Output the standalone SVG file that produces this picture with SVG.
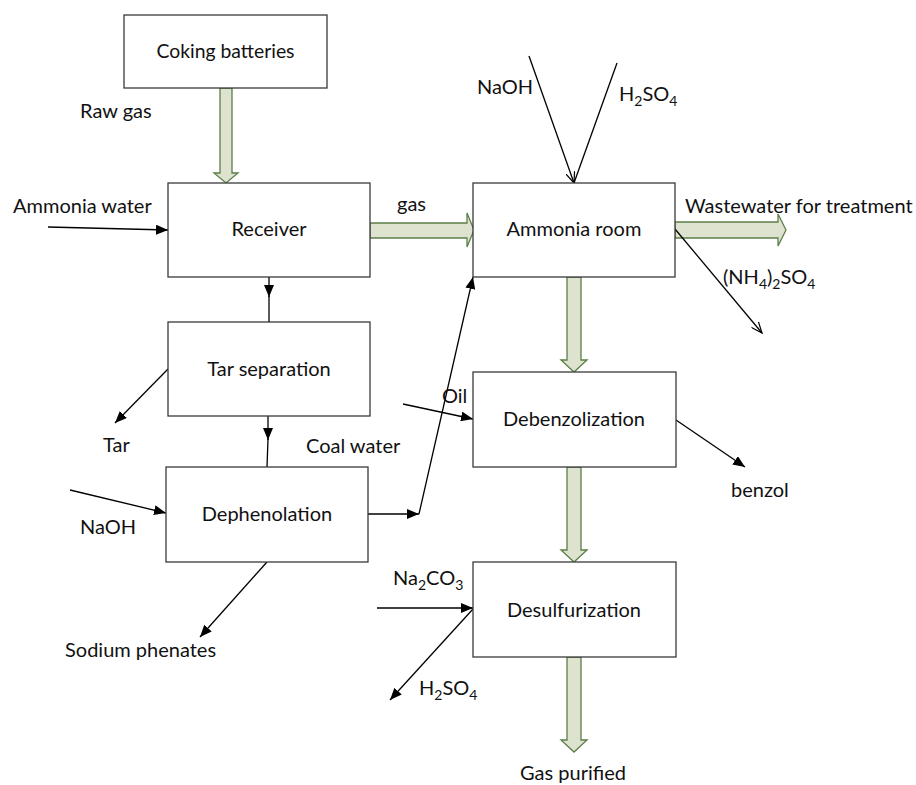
<svg xmlns="http://www.w3.org/2000/svg" width="916" height="785" viewBox="0 0 916 785">
<style>
.box{fill:#fff;stroke:#3a3a3a;stroke-width:1.3}
.t{font-family:Lato,"Liberation Sans",sans-serif;font-size:20px;fill:#111}
.c{text-anchor:middle}
.big{fill:#dde3cf;stroke:#5b7f47;stroke-width:1.3}
.ln{fill:none;stroke:#000;stroke-width:1.3}
.sub{font-size:14px}
</style>
<defs>
<marker id="fa" viewBox="0 0 12 10" refX="12" refY="5" markerWidth="12" markerHeight="10" markerUnits="userSpaceOnUse" orient="auto">
<path d="M0,0 L12,5 L0,10 Z" fill="#000"/>
</marker>
<marker id="oa" viewBox="0 0 12 10" refX="11" refY="5" markerWidth="12" markerHeight="10" markerUnits="userSpaceOnUse" orient="auto">
<path d="M0,0.5 L11,5 L0,9.5" fill="none" stroke="#000" stroke-width="1.2"/>
</marker>
</defs>
<rect width="916" height="785" fill="#fff"/>
<g id="connectors">
<polygon class="big" points="220,88 232,88 232,173 238,173 226,183 214,173 220,173"/>
<polygon class="big" points="370,223 467,223 467,213 474,230 467,247 467,238 370,238"/>
<polygon class="big" points="675,222 778,222 778,214 786,230 778,246 778,238 675,238"/>
<polygon class="big" points="567,277 581,277 581,360 587,360 574,372 561,360 567,360"/>
<polygon class="big" points="567,467 581,467 581,550 587,550 574,562 561,550 567,550"/>
<polygon class="big" points="567,657 581,657 581,740 587,740 574,752 561,740 567,740"/>
<line class="ln" x1="48" y1="227" x2="168" y2="230" marker-end="url(#fa)"/>
<line class="ln" x1="269" y1="277" x2="269" y2="297" marker-end="url(#fa)"/>
<line class="ln" x1="269" y1="296" x2="269" y2="322"/>
<line class="ln" x1="268" y1="416" x2="268" y2="440" marker-end="url(#fa)"/>
<line class="ln" x1="268" y1="439" x2="267" y2="467"/>
<line class="ln" x1="168" y1="369" x2="115" y2="423" marker-end="url(#fa)"/>
<line class="ln" x1="70" y1="490" x2="166" y2="513" marker-end="url(#fa)"/>
<line class="ln" x1="267" y1="562" x2="200" y2="637" marker-end="url(#fa)"/>
<line class="ln" x1="368" y1="514" x2="419" y2="514" marker-end="url(#fa)"/>
<line class="ln" x1="419" y1="514" x2="473" y2="277" marker-end="url(#fa)"/>
<line class="ln" x1="403" y1="404" x2="473" y2="419" marker-end="url(#fa)"/>
<line class="ln" x1="529" y1="56" x2="574" y2="183" marker-end="url(#oa)"/>
<line class="ln" x1="617" y1="63" x2="574" y2="183"/>
<line class="ln" x1="675" y1="229" x2="762" y2="333" marker-end="url(#oa)"/>
<line class="ln" x1="676" y1="420" x2="745" y2="467" marker-end="url(#fa)"/>
<line class="ln" x1="377" y1="608" x2="473" y2="608" marker-end="url(#fa)"/>
<line class="ln" x1="473" y1="609" x2="390" y2="700" marker-end="url(#fa)"/>
</g>
<g id="coking"><rect class="box" x="124" y="15" width="203" height="73"/><text class="t c" x="225.5" y="58" textLength="138" lengthAdjust="spacingAndGlyphs">Coking batteries</text></g>
<g id="receiver"><rect class="box" x="168" y="183" width="202" height="94"/><text class="t c" x="269" y="236">Receiver</text></g>
<g id="ammonia"><rect class="box" x="473" y="183" width="202" height="94"/><text class="t c" x="574" y="236">Ammonia room</text></g>
<g id="tar"><rect class="box" x="168" y="322" width="202" height="94"/><text class="t c" x="269" y="376">Tar separation</text></g>
<g id="debenz"><rect class="box" x="473" y="372" width="203" height="95"/><text class="t c" x="574" y="426">Debenzolization</text></g>
<g id="dephen"><rect class="box" x="166" y="467" width="202" height="95"/><text class="t c" x="267" y="521">Dephenolation</text></g>
<g id="desulf"><rect class="box" x="473" y="562" width="203" height="95"/><text class="t c" x="574" y="617">Desulfurization</text></g>
<g id="labels">
<text class="t" x="80" y="118">Raw gas</text>
<text class="t" x="13" y="213">Ammonia water</text>
<text class="t" x="397" y="211">gas</text>
<text class="t" x="477" y="94">NaOH</text>
<text class="t" x="619" y="101">H<tspan class="sub" dy="5">2</tspan><tspan dy="-5">SO</tspan><tspan class="sub" dy="5">4</tspan></text>
<text class="t" x="685" y="213">Wastewater for treatment</text>
<text class="t" x="723" y="284">(NH<tspan class="sub" dy="5">4</tspan><tspan dy="-5">)</tspan><tspan class="sub" dy="5">2</tspan><tspan dy="-5">SO</tspan><tspan class="sub" dy="5">4</tspan></text>
<text class="t" x="103" y="452">Tar</text>
<text class="t" x="306" y="453">Coal water</text>
<text class="t" x="442" y="403">Oil</text>
<text class="t" x="731" y="497">benzol</text>
<text class="t" x="80" y="534">NaOH</text>
<text class="t" x="65" y="657">Sodium phenates</text>
<text class="t" x="393" y="585">Na<tspan class="sub" dy="5">2</tspan><tspan dy="-5">CO</tspan><tspan class="sub" dy="5">3</tspan></text>
<text class="t" x="419" y="695">H<tspan class="sub" dy="5">2</tspan><tspan dy="-5">SO</tspan><tspan class="sub" dy="5">4</tspan></text>
<text class="t c" x="573" y="780">Gas purified</text>
</g>
</svg>
